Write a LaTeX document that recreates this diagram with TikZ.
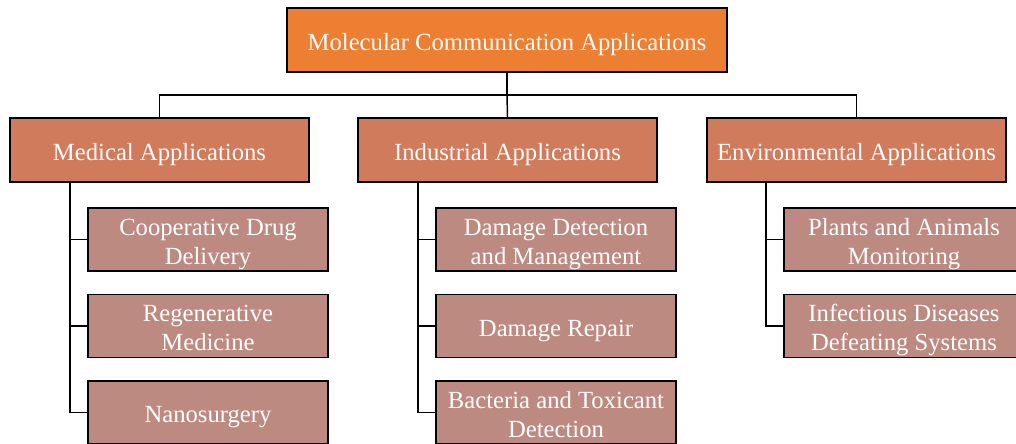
\documentclass[tikz,border=0pt]{standalone}
\usepackage{fontspec}
\setmainfont{Liberation Serif}
\definecolor{rootc}{RGB}{237,127,50}
\definecolor{lvla}{RGB}{208,123,92}
\definecolor{lvlb}{RGB}{188,138,129}
\newcommand{\boxlbl}[1]{\raisebox{-7.5pt}[0pt][0pt]{\begin{tabular}{@{}c@{}}#1\end{tabular}}}
\begin{document}
\begin{tikzpicture}[x=0.75pt,y=-0.75pt,
  base/.style={draw=black,line width=1.2pt,text=white,inner sep=0pt,
    font=\fontsize{18.5}{21.75}\selectfont},
  rootbox/.style={base,fill=rootc,minimum width=330pt,minimum height=48pt},
  catbox/.style={base,fill=lvla,minimum width=224.25pt,minimum height=48pt},
  leafbox/.style={base,fill=lvlb,minimum width=180pt,minimum height=47.25pt},
  conn/.style={draw=black,line width=1.1pt}]
\clip (0,0) rectangle (1016,443);
\useasboundingbox (0,0) rectangle (1016,443);
\fill[white] (0,0) rectangle (1016,443);

\node[rootbox] (root) at (507,40) {\boxlbl{Molecular Communication Applications}};

\node[catbox] (med) at (159.5,150) {\boxlbl{Medical Applications}};
\node[catbox] (ind) at (507.5,150) {\boxlbl{Industrial Applications}};
\node[catbox] (env) at (856.5,150) {\boxlbl{Environmental Applications}};

\node[leafbox] (m1) at (208,239.5) {\boxlbl{Cooperative Drug\\Delivery}};
\node[leafbox] (m2) at (208,326) {\boxlbl{Regenerative\\Medicine}};
\node[leafbox] (m3) at (208,412.5) {\boxlbl{Nanosurgery}};

\node[leafbox] (i1) at (556,239.5) {\boxlbl{Damage Detection\\and Management}};
\node[leafbox] (i2) at (556,326) {\boxlbl{Damage Repair}};
\node[leafbox] (i3) at (556,412.5) {\boxlbl{Bacteria and Toxicant\\Detection}};

\node[leafbox] (e1) at (904,239.5) {\boxlbl{Plants and Animals\\Monitoring}};
\node[leafbox] (e2) at (904,326) {\boxlbl{Infectious Diseases\\Defeating Systems}};

\coordinate (bus) at (507,95);
\draw[conn] (root.south) -- (bus);
\draw[conn] (bus) -| (med.north);
\draw[conn] (bus) -| (env.north);
\draw[conn] (bus) -- (ind.north);

\coordinate (mx) at (70,182);
\coordinate (ix) at (418,182);
\coordinate (ex) at (766,182);

\draw[conn] (mx) |- (m1.west);
\draw[conn] (mx) |- (m2.west);
\draw[conn] (mx) |- (m3.west);
\draw[conn] (ix) |- (i1.west);
\draw[conn] (ix) |- (i2.west);
\draw[conn] (ix) |- (i3.west);
\draw[conn] (ex) |- (e1.west);
\draw[conn] (ex) |- (e2.west);
\end{tikzpicture}
\end{document}
